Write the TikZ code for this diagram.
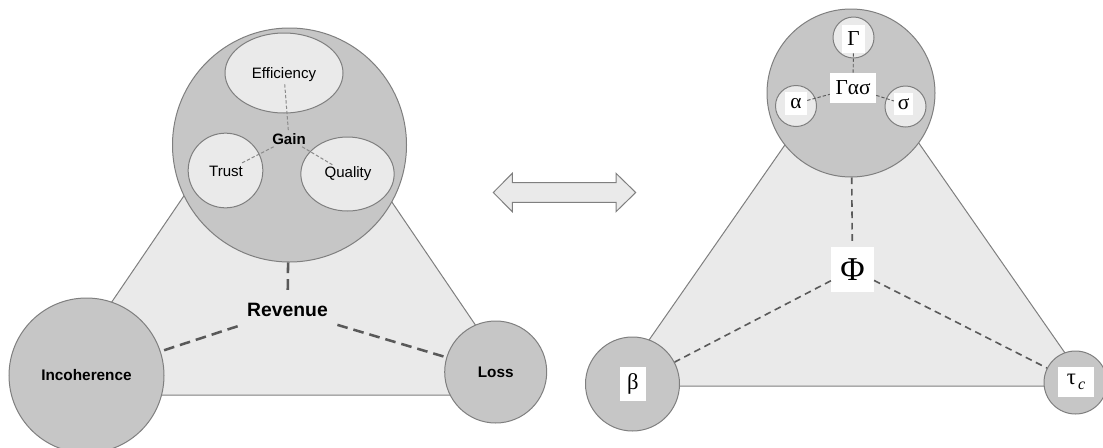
\documentclass[tikz,border=0pt]{standalone}
\usepackage{fontspec}
\setmainfont{Liberation Sans}
\newfontfamily\grk{Liberation Serif}
\usetikzlibrary{shapes.geometric}
\definecolor{edgegray}{HTML}{7F7F7F}
\definecolor{bigfill}{HTML}{C6C6C6}
\definecolor{lightfill}{HTML}{EAEAEA}
\definecolor{dashdark}{HTML}{595959}
\definecolor{dashlight}{HTML}{8A8A8A}
\begin{document}
\begin{tikzpicture}[x=0.75pt,y=-0.75pt,
  bigcirc/.style={circle, draw=edgegray, fill=bigfill, line width=0.75pt, inner sep=0pt},
  innerell/.style={ellipse, draw=edgegray, fill=lightfill, line width=0.75pt, inner sep=0pt},
  innercirc/.style={circle, draw=edgegray, fill=lightfill, line width=0.75pt, inner sep=0pt, minimum size=30.75pt},
  trap/.style={draw=edgegray, fill=lightfill, line width=0.75pt},
  arrowshape/.style={draw=edgegray, fill=lightfill, line width=0.75pt, line join=miter},
  lbl/.style={font=\fontsize{11.3pt}{13.5pt}\selectfont, inner sep=1.5pt},
  boldlbl/.style={font=\fontsize{11.3pt}{13.5pt}\selectfont\bfseries, inner sep=1.5pt},
  revlbl/.style={font=\fontsize{14.5pt}{17pt}\selectfont\bfseries, inner sep=7pt},
  grkbox/.style={fill=white, inner sep=0.5pt, font=\grk\fontsize{16pt}{19pt}\selectfont},
  thickdash/.style={draw=dashdark, line width=1.9pt, dash pattern=on 8pt off 4.5pt},
  meddash/.style={draw=dashdark, line width=1.2pt, dash pattern=on 5pt off 3.5pt},
  thindash/.style={draw=dashlight, line width=0.75pt, dash pattern=on 2.5pt off 1.5pt},
  thindashr/.style={draw=dashdark, line width=0.7pt, dash pattern=on 2.5pt off 1.5pt}
]
\useasboundingbox (0,0) rectangle (1103,447);

% ---------------- left diagram ----------------
\draw[trap] (48.5,395) -- (215.1,150) -- (356.5,150) -- (523,395) -- cycle;

\node[bigcirc, minimum size=175.5pt] (gaincirc) at (289.5,145) {};
\node[innerell, minimum width=88.5pt, minimum height=60pt] (effell) at (284,73) {};
\node[innerell, minimum width=56pt, minimum height=56pt] (trustell) at (225.5,170.5) {};
\node[innerell, minimum width=70pt, minimum height=55.5pt] (qualell) at (347.5,174) {};

\node[lbl] (effl) at (284,75) {Efficiency};
\node[lbl] (trustl) at (226,171) {Trust};
\node[lbl] (quall) at (348,174) {Quality};
\node[boldlbl] (gainl) at (289,139) {Gain};

\draw[thindash] (effl) -- (gainl);
\draw[thindash] (gainl) -- (trustl);
\draw[thindash] (gainl) -- (quall);

\node[bigcirc, minimum size=116.25pt, font=\fontsize{11.5pt}{13.5pt}\selectfont\bfseries] (incoh) at (86.5,375.5) {Incoherence};
\node[bigcirc, minimum size=76.5pt, font=\fontsize{11.5pt}{13.5pt}\selectfont\bfseries] (loss) at (495.7,372) {Loss};

\node[revlbl] (rev) at (287.5,310) {Revenue};

\draw[thickdash] (gaincirc) -- (rev);
\draw[thickdash] (rev) -- (incoh);
\draw[thickdash] (rev) -- (loss);

% ---------------- double arrow ----------------
\draw[arrowshape] (493.3,192.5) -- (512.3,173.3) -- (512.3,182.7) -- (616,182.7) -- (616,173.3)
  -- (635.7,192.5) -- (616,211.7) -- (616,202.3) -- (512.3,202.3) -- (512.3,211.7) -- cycle;

% ---------------- right diagram ----------------
\draw[trap] (617,386) -- (795.3,130) -- (909.7,130) -- (1088,386) -- cycle;

\node[bigcirc, minimum size=126pt] (topcirc) at (851,93) {};
\node[innercirc] (gcirc) at (853.5,37.5) {};
\node[innercirc] (acirc) at (796,106) {};
\node[innercirc] (scirc) at (905.5,106.5) {};

\node[grkbox, minimum width=17.25pt, minimum height=21pt] (gl) at (853.5,39) {Γ};
\node[grkbox, minimum width=16.5pt, minimum height=17pt] (al) at (796,103.5) {α};
\node[grkbox, minimum width=14pt, minimum height=16.5pt] (sl) at (903.5,104) {σ};
\node[grkbox, minimum width=34.5pt, minimum height=22.5pt] (gas) at (853,88) {Γασ};

\draw[thindashr] (gl) -- (gas);
\draw[thindashr] (al) -- (gas);
\draw[thindashr] (gas) -- (sl);

\node[bigcirc, minimum size=70.5pt] (bcirc) at (632.5,384) {};
\node[bigcirc, minimum size=47.25pt] (tcirc) at (1075.5,382.5) {};

\node[grkbox, minimum width=19.5pt, minimum height=25.5pt, font=\grk\fontsize{17pt}{20pt}\selectfont] (bl) at (633,384) {β};
\node[grkbox, minimum width=27pt, minimum height=22.5pt, font=\grk\fontsize{17pt}{20pt}\selectfont] (tl) at (1076,382) {τ\kern1.5pt\raisebox{-0.45ex}{\fontsize{12pt}{14pt}\selectfont\itshape c}};

\node[grkbox, minimum width=32pt, minimum height=34pt, font=\grk\fontsize{25pt}{29pt}\selectfont] (phi) at (852.5,269.5) {Φ};

\draw[meddash, shorten >=3.5pt] (topcirc) -- (phi);
\draw[meddash] (phi) -- (bcirc);
\draw[meddash] (phi) -- (tcirc);
\end{tikzpicture}
\end{document}
